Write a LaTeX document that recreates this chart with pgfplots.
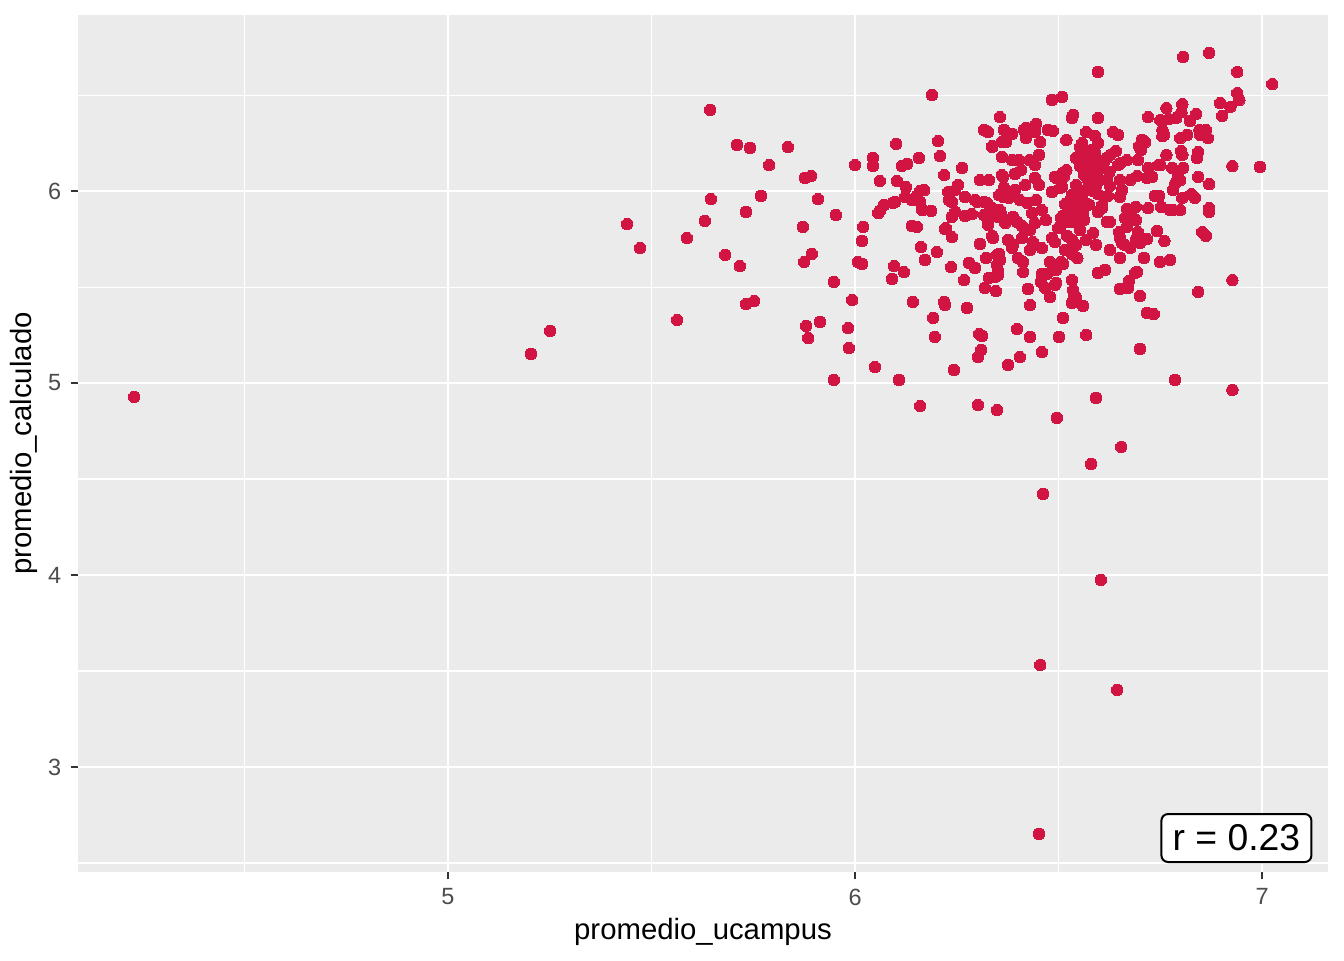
\documentclass[border=0pt]{standalone}
\usepackage{pgfplots}
\pgfplotsset{compat=1.18}
\usepackage{fontspec}
\setmainfont{Liberation Sans}
\definecolor{pt}{RGB}{210,20,66}
\definecolor{panel}{RGB}{235,235,235}
\begin{document}
\begin{tikzpicture}
\useasboundingbox (-29.25pt,-33pt) rectangle (474.75pt,327pt);
\begin{axis}[
  scale only axis, width=468.75pt, height=321.375pt,
  xmin=4.091, xmax=7.162, ymin=2.453, ymax=6.917,
  axis background/.style={fill=panel},
  axis line style={draw=none},
  xtick={5,6,7}, ytick={3,4,5,6},
  minor xtick={4.5,5.5,6.5}, minor ytick={2.5,3.5,4.5,5.5,6.5},
  grid=both,
  major grid style={white, line width=0.8pt},
  minor grid style={white, line width=0.4pt},
  tick align=outside, tick pos=left,
  major tick length=2.75pt, minor tick length=0pt,
  tick style={color=black!80, line width=0.6pt},
  /pgf/number format/assume math mode=true,
  ticklabel style={font=\fontsize{8.8}{10}\selectfont, color=black!70},
  xlabel={promedio\_ucampus}, ylabel={promedio\_calculado},
  label style={font=\fontsize{11}{13}\selectfont},
  xlabel style={yshift=2pt},
  ylabel style={yshift=-3pt},
]
\addplot[only marks, color=pt, mark=*, mark size=2.15pt, mark options={draw=pt, fill=pt, line width=0pt}] table {
x y
4.229 4.927
5.204 5.151
5.251 5.271
5.440 5.828
5.472 5.703
5.563 5.328
5.587 5.755
5.631 5.844
5.644 6.422
5.646 5.958
5.681 5.667
5.710 6.240
5.717 5.609
5.732 5.891
5.732 5.411
5.742 6.224
5.752 5.427
5.769 5.974
5.789 6.135
5.835 6.229
5.872 5.813
5.877 6.068
5.892 6.078
5.909 5.958
5.894 5.672
5.875 5.630
5.880 5.297
5.885 5.234
5.914 5.318
5.948 5.526
5.953 5.875
5.948 5.016
5.983 5.286
5.985 5.182
5.993 5.432
6.000 6.135
6.007 5.630
6.017 5.620
6.017 5.740
6.020 5.813
6.049 5.083
6.044 6.172
6.044 6.130
6.061 5.896
6.061 6.052
6.071 5.927
6.091 5.542
6.096 5.609
6.101 6.245
6.103 6.052
6.108 5.016
6.098 5.943
6.120 5.578
6.125 6.021
6.128 6.141
6.142 5.422
6.152 5.974
6.152 5.813
6.160 4.880
6.157 6.172
6.162 5.708
6.167 5.901
6.170 6.005
6.172 5.641
6.189 6.500
6.192 5.339
6.196 5.240
6.201 5.682
6.204 6.260
6.209 6.182
6.219 5.422
6.219 6.083
6.223 5.807
6.231 5.953
6.236 5.604
6.238 5.760
6.243 5.068
6.238 5.865
6.253 6.031
6.263 6.120
6.270 5.870
6.275 5.391
6.280 5.625
6.268 5.536
6.295 5.599
6.302 4.885
6.302 5.135
6.305 5.255
6.310 5.172
6.312 5.245
6.307 5.724
6.319 5.495
6.329 5.547
6.339 5.755
6.349 4.859
6.351 5.583
6.354 5.672
6.359 5.880
6.361 6.177
6.356 6.385
6.317 6.318
6.369 5.833
6.376 5.094
6.383 5.729
6.398 5.281
6.405 5.135
6.413 5.578
6.430 5.240
6.430 5.406
6.455 3.531
6.452 2.651
6.462 4.422
6.459 5.161
6.457 5.526
6.467 5.495
6.472 5.568
6.479 5.448
6.491 5.510
6.496 4.818
6.501 5.240
6.511 5.339
6.511 5.620
6.533 5.417
6.560 5.401
6.568 5.250
6.580 4.578
6.592 4.922
6.597 5.573
6.604 3.974
6.644 3.401
6.654 4.667
6.651 5.490
6.700 5.177
6.700 5.453
6.688 5.573
6.671 5.495
6.717 5.365
6.734 5.359
6.786 5.016
6.749 5.630
6.774 5.641
6.843 5.474
6.927 5.536
6.927 4.964
6.995 6.125
6.927 6.130
7.025 6.557
6.939 6.510
6.944 6.474
6.939 6.620
6.870 6.719
6.806 6.698
6.597 6.620
6.509 6.490
6.484 6.474
6.922 6.438
6.902 6.391
6.897 6.458
6.862 6.318
6.867 6.276
6.846 6.318
6.838 6.401
6.804 6.453
6.802 6.411
6.765 6.432
6.789 6.380
6.770 6.375
6.750 6.370
6.720 6.385
6.823 6.365
6.816 6.292
6.755 6.318
6.755 6.286
6.713 6.255
6.703 6.214
6.695 6.161
6.720 6.120
6.745 6.135
6.765 6.188
6.779 6.120
6.804 6.188
6.806 6.120
6.840 6.172
6.843 6.203
6.843 6.073
6.870 6.036
6.826 5.984
6.835 5.964
6.804 5.964
6.787 6.042
6.794 6.083
6.747 5.974
6.752 5.917
6.774 5.901
6.799 5.901
6.870 5.911
6.870 5.891
6.853 5.786
6.862 5.766
6.717 6.068
6.730 6.073
6.737 5.974
6.720 5.911
6.690 5.917
6.678 5.896
6.663 5.859
6.690 5.849
6.668 5.813
6.695 5.786
6.690 5.745
6.717 5.750
6.663 5.719
6.676 5.703
6.651 5.755
6.626 5.839
6.651 6.057
6.656 6.005
6.676 6.057
6.626 6.026
6.621 5.974
6.597 5.984
6.607 5.927
6.597 5.891
6.619 6.172
6.641 6.208
6.646 6.292
6.634 6.307
6.668 6.161
6.653 6.146
6.597 6.380
6.533 6.380
6.568 6.307
6.590 6.286
6.558 6.250
6.553 6.229
6.519 6.266
6.543 6.172
6.558 6.172
6.582 6.161
6.553 6.130
6.577 6.120
6.597 6.109
6.563 6.083
6.587 6.068
6.543 6.031
6.573 6.016
6.592 6.026
6.533 5.979
6.556 5.964
6.526 5.901
6.511 5.870
6.546 5.891
6.563 5.849
6.516 5.932
6.506 5.859
6.531 5.839
6.553 5.797
6.521 5.766
6.533 5.745
6.499 5.807
6.484 5.755
6.491 5.734
6.514 6.078
6.494 6.068
6.504 6.016
6.484 5.995
6.469 5.849
6.459 5.901
6.445 5.953
6.435 5.885
6.430 5.797
6.437 5.734
6.430 5.693
6.410 5.755
6.398 5.839
6.386 5.703
6.400 5.651
6.376 5.745
6.405 5.953
6.393 6.005
6.418 6.031
6.442 6.068
6.452 6.031
6.442 6.135
6.452 6.188
6.428 6.161
6.455 6.255
6.442 6.307
6.474 6.318
6.415 6.318
6.420 6.276
6.445 6.349
6.536 6.396
6.366 6.318
6.371 6.255
6.361 6.083
6.366 6.016
6.354 5.979
6.378 5.964
6.356 5.901
6.337 5.911
6.317 5.943
6.329 6.057
6.307 6.057
6.337 6.229
6.327 6.307
6.403 6.161
6.408 6.109
6.393 6.089
6.351 5.865
6.327 5.823
6.317 5.875
6.295 5.953
6.287 5.880
6.519 6.109
6.533 5.672
6.516 5.693
6.614 5.589
6.506 5.630
6.479 5.630
6.459 5.703
6.494 5.589
6.413 5.630
6.322 5.651
6.356 5.641
6.351 5.562
6.388 5.719
6.442 5.833
6.750 6.135
6.799 6.276
6.651 5.651
6.626 5.693
6.592 5.719
6.568 5.745
6.710 5.651
6.742 5.792
6.760 5.740
6.546 5.651
6.536 5.484
6.538 5.458
6.115 6.130
6.160 6.000
6.123 5.969
6.140 5.953
6.160 5.943
6.093 5.938
6.057 5.885
6.165 5.901
6.187 5.896
6.229 5.995
6.246 6.005
6.238 5.943
6.246 5.891
6.270 5.969
6.140 5.818
6.221 5.802
6.300 5.943
6.324 5.938
6.337 5.885
6.324 5.859
6.364 5.969
6.388 5.865
6.410 5.818
6.423 5.938
6.364 6.073
6.386 6.161
6.361 6.255
6.337 6.234
6.420 6.328
6.386 6.297
6.486 6.313
6.221 5.406
6.337 5.766
6.349 5.667
6.349 5.615
6.344 5.552
6.346 5.479
6.425 5.490
6.459 5.568
6.494 5.521
6.533 5.536
6.543 5.443
6.673 5.531
6.693 5.578
6.585 5.781
6.619 5.839
6.649 5.786
6.656 5.729
6.700 5.729
6.504 5.807
6.543 5.719
6.597 6.250
6.627 6.188
6.646 6.135
6.511 6.094
6.491 6.073
6.509 6.021
6.602 6.125
6.619 6.057
6.607 5.911
6.560 5.885
6.759 6.292
6.848 6.292
6.705 6.266
6.698 6.234
6.801 6.208
6.693 6.078
6.799 6.057
6.781 6.005
6.668 5.906
6.651 5.969
6.781 5.901
6.565 6.214
6.582 6.214
6.572 6.057
6.590 6.083
6.602 6.057
6.533 5.927
6.548 5.938
6.523 5.875
6.541 5.859
6.553 5.859
6.516 5.839
6.580 6.180
6.575 6.140
6.590 6.200
6.567 6.100
6.585 6.000
6.560 5.990
6.545 5.910
6.528 5.950
6.610 6.140
6.625 6.100
6.595 6.160
6.575 5.930
};
\node[draw=black, line width=0.75pt, fill=white, rounded corners=2.5pt,
  inner xsep=4.2pt, minimum height=18pt,
  font=\fontsize{14}{16}\selectfont] at (axis cs:6.937,2.630) {r = 0.23};
\end{axis}
\end{tikzpicture}
\end{document}
